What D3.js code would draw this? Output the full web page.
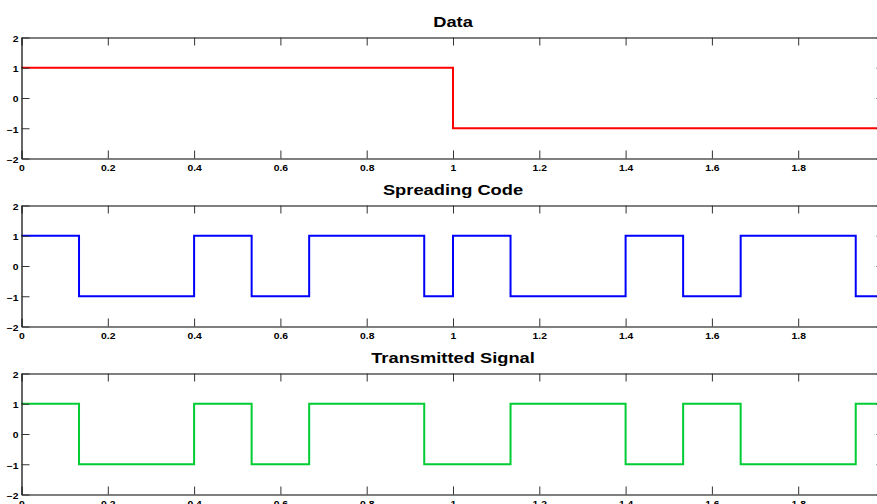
<!DOCTYPE html>
<html>
<head>
<meta charset="utf-8">
<script src="https://cdn.jsdelivr.net/npm/d3@7"></script>
<style>
  html, body { margin: 0; padding: 0; background: #fff; overflow: hidden; }
  svg { display: block; }
  .tick text { font-family: "Liberation Sans", Arial, sans-serif; font-weight: bold; font-size: 8.5px; fill: #000; }
  .title { font-family: "Liberation Sans", Arial, sans-serif; font-weight: bold; font-size: 15px; fill: #000; }
</style>
</head>
<body>
<script>
// Direct-sequence spread spectrum: one data bit per second, 15 chips per bit.
const chipDuration = 1 / 15;
const bitDuration = 1;

// Data bits (one per bit period)
const dataBits = [1, -1];

// PN spreading code chips over two bit periods
const codeChips = [
  1, 1, -1, -1, -1, -1, 1, 1, -1, -1, 1, 1, 1, 1, -1,
  1, 1, -1, -1, -1, -1, 1, 1, -1, -1, 1, 1, 1, 1, -1
];

// Transmitted chips (data bit times spreading chip)
const txChips = [
  1, 1, -1, -1, -1, -1, 1, 1, -1, -1, 1, 1, 1, 1, -1,
  -1, -1, 1, 1, 1, 1, -1, -1, 1, 1, -1, -1, -1, -1, 1
];

const panelTitles = ["Data", "Spreading Code", "Transmitted Signal"];
const panelColors = ["#ff0000", "#0000ff", "#00cc33"];
const xTicks = [0, 0.2, 0.4, 0.6, 0.8, 1, 1.2, 1.4, 1.6, 1.8, 2];
const xTickLabels = ["0", "0.2", "0.4", "0.6", "0.8", "1", "1.2", "1.4", "1.6", "1.8", ""];
const yTicks = [-2, -1, 0, 1, 2];
const xDomain = [0, 2];
const yDomain = [-2, 2];

// Turn a list of levels of fixed duration into step points
function toSteps(levels, dur) {
  const pts = levels.map((v, i) => [i * dur, v]);
  pts.push([levels.length * dur, levels[levels.length - 1]]);
  return pts;
}

const series = [
  toSteps(dataBits, bitDuration),
  toSteps(codeChips, chipDuration),
  toSteps(txChips, chipDuration)
];

const W = 877, H = 504;
const left = 21.5, right = 884.5;
const panelTops = [37.5, 205.5, 373.5];
const panelH = 121;
const textStretch = 1.22;

const svg = d3.select("body").append("svg").attr("width", W).attr("height", H);

const x = d3.scaleLinear().domain(xDomain).range([left, right]);
const fmt = d3.format("~g");
const xFmt = d => xTickLabels[xTicks.indexOf(d)];

series.forEach((pts, i) => {
  const top = panelTops[i], bottom = top + panelH;
  const y = d3.scaleLinear().domain(yDomain).range([bottom, top]);
  const g = svg.append("g");

  // signal trace
  g.append("path")
    .datum(pts)
    .attr("fill", "none")
    .attr("stroke", panelColors[i])
    .attr("stroke-width", 2)
    .attr("d", d3.line().x(d => x(d[0])).y(d => y(d[1])).curve(d3.curveStepAfter));

  // axes box with inward ticks
  const axB = g.append("g").attr("transform", `translate(0,${bottom})`)
    .call(d3.axisBottom(x).tickValues(xTicks).tickFormat(xFmt).tickSize(-8).tickSizeOuter(0).tickPadding(6));
  const axT = g.append("g").attr("transform", `translate(0,${top})`)
    .call(d3.axisTop(x).tickValues(xTicks).tickFormat("").tickSize(-8).tickSizeOuter(0));
  const axL = g.append("g").attr("transform", `translate(${left},0)`)
    .call(d3.axisLeft(y).tickValues(yTicks).tickFormat(fmt).tickSize(-8).tickSizeOuter(0).tickPadding(2.5));
  const axR = g.append("g").attr("transform", `translate(${right},0)`)
    .call(d3.axisRight(y).tickValues(yTicks).tickFormat("").tickSize(-8).tickSizeOuter(0));
  [axB, axT, axL, axR].forEach(a => {
    a.attr("font-family", null).attr("font-size", null);
    a.selectAll("path.domain").attr("stroke", "#000").attr("stroke-width", 1.2);
    a.selectAll(".tick line").attr("stroke", "#333");
  });
  axB.selectAll(".tick text").attr("transform", `scale(${textStretch},1)`);
  axL.selectAll(".tick text").attr("dy", "0.45em").attr("transform", `scale(${textStretch},1)`);

  // title
  g.append("text")
    .attr("class", "title")
    .attr("transform", `translate(${(left + right) / 2},${top - 11}) scale(${textStretch},1)`)
    .attr("text-anchor", "middle")
    .text(panelTitles[i]);
});
</script>
</body>
</html>
